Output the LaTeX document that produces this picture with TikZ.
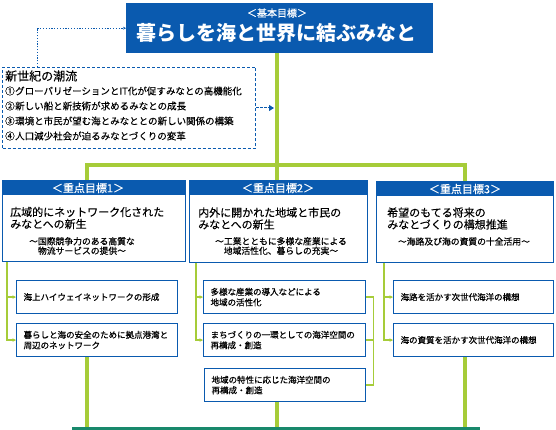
\documentclass[tikz,border=0pt]{standalone}
\usepackage{fontspec}
\setmainfont{Noto Sans CJK JP}
\newfontfamily\jpsemi[FakeBold=0.6]{Noto Sans CJK JP}
\newfontfamily\jpmed[FakeBold=0.3]{Noto Sans CJK JP}
\usetikzlibrary{arrows.meta,calc}
\definecolor{jblue}{RGB}{10,90,175}
\definecolor{jgreen}{RGB}{166,204,57}
\definecolor{jteal}{RGB}{24,137,108}
\begin{document}
\begin{tikzpicture}[x=1pt,y=-1pt,
  goalbox/.style={draw=jblue,line width=1.3pt,fill=white,inner sep=0pt,anchor=north west},
  hdr/.style={text=white,inner sep=0pt,font=\jpsemi\fontsize{11}{11}\selectfont},
  ttl/.style={anchor=west,align=left,inner sep=0pt,font=\jpmed\fontsize{11}{12}\selectfont},
  subt/.style={align=center,inner sep=0pt,font=\jpsemi\fontsize{8.8}{9.5}\selectfont},
  item/.style={draw=jblue,line width=1.2pt,fill=white,anchor=north west,align=left,
    inner xsep=7pt,inner ysep=0pt,minimum height=33pt,font=\jpsemi\fontsize{8.5}{10.5}\selectfont},
  trend/.style={anchor=west,inner sep=0pt,font=\jpmed\fontsize{9.5}{9.5}\selectfont},
  gthick/.style={draw=jgreen,line width=4pt},
  gthin/.style={draw=jgreen,line width=1.3pt},
  tip/.style={-{Stealth[length=3.5pt,width=3.5pt]}}
]
\useasboundingbox (0,0) rectangle (556,430);

% top goal
\node[fill=jblue,inner sep=0pt,anchor=north west,minimum width=307pt,minimum height=50pt] (top) at (126,3) {};
\node[text=white,inner sep=0pt,font=\jpsemi\fontsize{10}{10}\selectfont] (topl) at (277,13) {＜基本目標＞};
\node[text=white,inner sep=0pt,font=\fontsize{20}{20}\selectfont\bfseries] (topt) at (276,33) {暮らしを海と世界に結ぶみなと};

% trends box
\node[draw=jblue,line width=1pt,dash pattern=on 3pt off 2pt,inner sep=0pt,anchor=north west,
  minimum width=253pt,minimum height=81pt] (tr) at (2,67) {};
\node[trend,font=\jpmed\fontsize{12}{12}\selectfont] (tr0) at (5,76) {新世紀の潮流};
\node[trend] (tr1) at (5,91) {\makebox[1.05em][l]{①}グローバリゼーションとIT化が促すみなとの高機能化};
\node[trend] (tr2) at (5,106) {\makebox[1.05em][l]{②}新しい船と新技術が求めるみなとの成長};
\node[trend] (tr3) at (5,121) {\makebox[1.05em][l]{③}環境と市民が望む海とみなととの新しい関係の構築};
\node[trend] (tr4) at (5,136) {\makebox[1.05em][l]{④}人口減少社会が迫るみなとづくりの変革};

\draw[jblue,line width=1pt,dash pattern=on 1.2pt off 1.6pt,-{Stealth[length=3pt,width=3pt]}]
  ([xshift=35pt]tr.north west) |- (top.west);
\coordinate (arr) at (274,108);
\draw[jblue,line width=1pt,dash pattern=on 2.5pt off 1.5pt,-{Triangle[length=5pt,width=6pt]}]
  (tr.east) -- (arr);

% green trunk
\coordinate (hub) at (277,165);
\coordinate (d1) at (87,165);
\coordinate (d3) at (465,165);

% goal boxes
\node[goalbox,minimum width=183pt,minimum height=81pt] (b1) at (2,180) {};
\node[goalbox,minimum width=178pt,minimum height=82pt] (b2) at (189,180) {};
\node[goalbox,minimum width=177pt,minimum height=81pt] (b3) at (376,181) {};
\fill[jblue] (b1.north west) rectangle ($(b1.north east)+(0,15)$);
\fill[jblue] (b2.north west) rectangle ($(b2.north east)+(0,15)$);
\fill[jblue] (b3.north west) rectangle ($(b3.north east)+(0,15)$);

\draw[gthick] (top.south -| hub) -- (hub);
\draw[gthick] (d1 |- b1.north) -- (d1) -- (d3) -- (d3 |- b3.north);
\draw[gthick] (hub) -- (hub |- b2.north);

\node[hdr] (h1) at (88,188) {＜重点目標1＞};
\node[hdr] (h2) at (278,188) {＜重点目標2＞};
\node[hdr] (h3) at (465,189) {＜重点目標3＞};

\node[ttl] (t1) at (10,218) {広域的にネットワーク化された\\みなとへの新生};
\node[ttl] (t2) at (198,218.5) {内外に開かれた地域と市民の\\みなとへの新生};
\node[ttl] (t3) at (387,218.5) {希望のもてる将来の\\みなとづくりの構想推進};

\node[subt] (u1) at (82,246) {〜国際競争力のある高質な\\物流サービスの提供〜};
\node[subt] (u2) at (281,246) {〜工業とともに多様な産業による\\地域活性化、暮らしの充実〜};
\node[subt] (u3) at (464,241.5) {〜海路及び海の資質の十全活用〜};

% measures
\node[item,text width=147pt] (s11) at (16,280) {海上ハイウェイネットワークの形成};
\node[item,text width=147pt] (s12) at (16,323) {暮らしと海の安全のために拠点港湾と\\周辺のネットワーク};
\node[item,text width=148pt] (s21) at (203,280) {多様な産業の導入などによる\\地域の活性化};
\node[item,text width=148pt] (s22) at (203,323) {まちづくりの一環としての海洋空間の\\再構成・創造};
\node[item,text width=147pt] (s23) at (204,368) {地域の特性に応じた海洋空間の\\再構成・創造};
\node[item,text width=146pt] (s31) at (393,280) {海路を活かす次世代海洋の構想};
\node[item,text width=146pt] (s32) at (393,323) {海の資質を活かす次世代海洋の構想};

% thin connectors
\draw[gthin,tip] ([xshift=5pt]b1.south west) |- (s11.west);
\draw[gthin,tip] ([xshift=5pt]b1.south west) |- (s12.west);
\draw[gthin,tip] ([xshift=7pt]b2.south west) |- (s21.west);
\draw[gthin,tip] ([xshift=7pt]b2.south west) |- (s22.west);
\draw[gthin,tip] ([xshift=8pt]b3.south west) |- (s31.west);
\draw[gthin,tip] ([xshift=8pt]b3.south west) |- (s32.west);
\draw[gthin] (s21.east) -- ++(7,0) |- (s23.east);
\draw[gthin] (s22.east) -- ++(7,0);

% bottom
\node[fill=jteal,inner sep=0pt,minimum width=408pt,minimum height=2.5pt,anchor=south west] (base) at (72,430) {};
\draw[gthick] (s12.south -| d1) -- (d1 |- base.north);
\draw[gthick] (s23.south -| hub) -- (hub |- base.north);
\draw[gthick] (s32.south -| d3) -- (d3 |- base.north);
\end{tikzpicture}
\end{document}
